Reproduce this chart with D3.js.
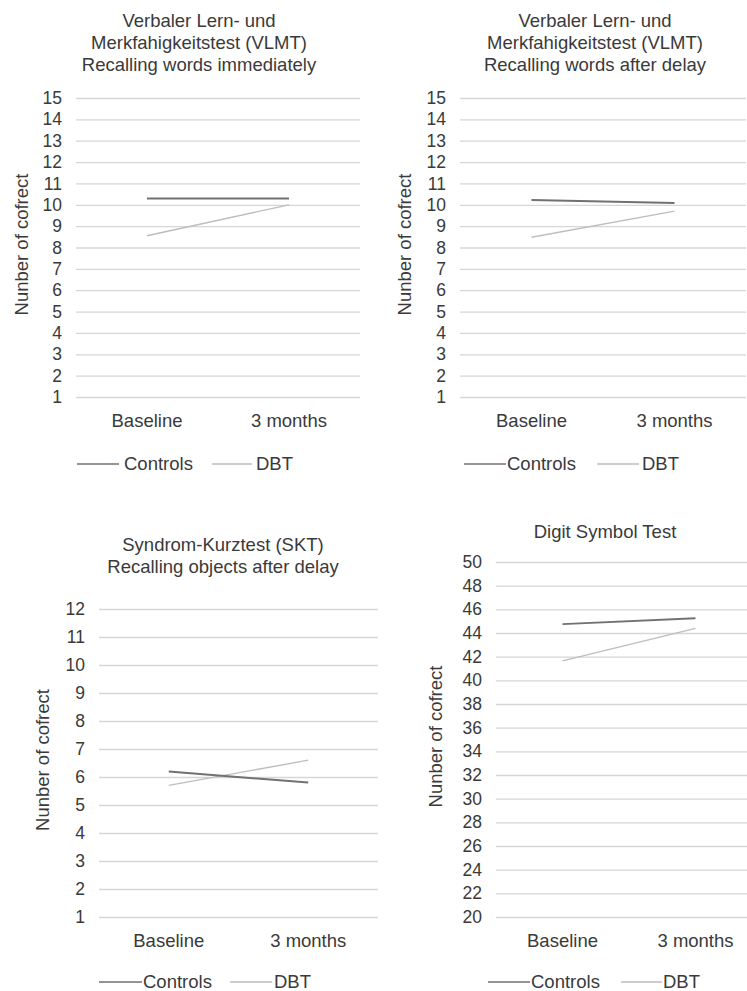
<!DOCTYPE html>
<html>
<head>
<meta charset="utf-8">
<script src="https://cdn.jsdelivr.net/npm/d3@7"></script>
<style>
  body { margin: 0; background: #fff; }
  svg { display: block; font-family: "Liberation Sans", Arial, sans-serif; }
  text { fill: #3a3a3a; }
</style>
</head>
<body>
<script>
// data
var categories = ["Baseline", "3 months"];
var seriesNames = ["Controls", "DBT"];

var vlmtImmediateControls = [10.3, 10.3];
var vlmtImmediateDBT = [8.55, 10.0];
var vlmtDelayControls = [10.22, 10.08];
var vlmtDelayDBT = [8.48, 9.7];
var sktControls = [6.2, 5.8];
var sktDBT = [5.7, 6.6];
var digitControls = [44.75, 45.25];
var digitDBT = [41.65, 44.4];

var vlmtTicks = [1, 2, 3, 4, 5, 6, 7, 8, 9, 10, 11, 12, 13, 14, 15];
var sktTicks = [1, 2, 3, 4, 5, 6, 7, 8, 9, 10, 11, 12];
var digitTicks = [20, 22, 24, 26, 28, 30, 32, 34, 36, 38, 40, 42, 44, 46, 48, 50];

var yLabel = "Nunber of cofrect";

var panels = [
  { title: ["Verbaler Lern- und", "Merkfahigkeitstest (VLMT)", "Recalling words immediately"],
    controls: vlmtImmediateControls, dbt: vlmtImmediateDBT, ticks: vlmtTicks,
    x0: 76, x1: 360, yTop: 98, yBot: 397, titleX: 199, titleY: 27, labelX: 22,
    xLabY: 427, legY: 464, leg: [77, 119, 124, 212, 252, 256] },
  { title: ["Verbaler Lern- und", "Merkfahigkeitstest (VLMT)", "Recalling words after delay"],
    controls: vlmtDelayControls, dbt: vlmtDelayDBT, ticks: vlmtTicks,
    x0: 460, x1: 746, yTop: 98, yBot: 397, titleX: 595, titleY: 27, labelX: 405,
    xLabY: 427, legY: 464, leg: [464, 506, 507, 597, 639, 642] },
  { title: ["Syndrom-Kurztest (SKT)", "Recalling objects after delay"],
    controls: sktControls, dbt: sktDBT, ticks: sktTicks,
    x0: 99, x1: 378, yTop: 609, yBot: 917, titleX: 223, titleY: 551, labelX: 43,
    xLabY: 947, legY: 982, leg: [99, 142, 143, 230, 272, 274] },
  { title: ["Digit Symbol Test"],
    controls: digitControls, dbt: digitDBT, ticks: digitTicks,
    x0: 496, x1: 762, yTop: 562, yBot: 917, titleX: 605, titleY: 538, labelX: 436,
    xLabY: 947, legY: 982, leg: [488, 530, 531, 621, 662, 663] }
];

var colors = { Controls: "#717171", DBT: "#bdbdbd" };
var widths = { Controls: 2, DBT: 1.3 };
var fs = 18.5;

var svg = d3.select("body").append("svg")
  .attr("width", 747)
  .attr("height", 991);

panels.forEach(function(p) {
  var g = svg.append("g");

  var x = d3.scaleBand().domain(categories).range([p.x0, p.x1]);
  var y = d3.scaleLinear()
    .domain([p.ticks[0], p.ticks[p.ticks.length - 1]])
    .range([p.yBot, p.yTop]);

  // grid + tick labels
  var ax = g.append("g")
    .attr("transform", "translate(" + p.x0 + ",0)")
    .call(d3.axisLeft(y).tickValues(p.ticks).tickSize(-(p.x1 - p.x0)).tickPadding(14).tickFormat(d3.format("d")));
  ax.select(".domain").remove();
  ax.selectAll(".tick line").attr("stroke", "#d6d6d6").attr("stroke-width", 1.3);
  ax.selectAll(".tick text").attr("font-size", 17.5).attr("fill", "#3a3a3a");

  // category labels
  var bx = g.append("g")
    .attr("transform", "translate(0," + p.xLabY + ")")
    .call(d3.axisBottom(x).tickSize(0).tickPadding(0));
  bx.select(".domain").remove();
  bx.selectAll(".tick text").attr("font-size", fs).attr("fill", "#3a3a3a").attr("y", 0).attr("dy", 0);

  // lines
  var line = d3.line()
    .x(function(d, i) { return x(categories[i]) + x.bandwidth() / 2; })
    .y(function(d) { return y(d); });

  [["DBT", p.dbt], ["Controls", p.controls]].forEach(function(s) {
    g.append("path")
      .datum(s[1])
      .attr("d", line)
      .attr("fill", "none")
      .attr("stroke", colors[s[0]])
      .attr("stroke-width", widths[s[0]]);
  });

  // title
  var t = g.append("text")
    .attr("x", p.titleX)
    .attr("y", p.titleY)
    .attr("text-anchor", "middle")
    .attr("font-size", fs);
  p.title.forEach(function(line, i) {
    t.append("tspan").attr("x", p.titleX).attr("dy", i === 0 ? 0 : 22).text(line);
  });

  // y label
  g.append("text")
    .attr("transform", "translate(" + p.labelX + "," + ((p.yTop + p.yBot) / 2 - 3) + ") rotate(-90)")
    .attr("text-anchor", "middle")
    .attr("dy", "0.35em")
    .attr("font-size", fs)
    .text(yLabel);

  // legend
  var l = p.leg;
  seriesNames.forEach(function(name, i) {
    g.append("line")
      .attr("x1", l[i * 3]).attr("x2", l[i * 3 + 1])
      .attr("y1", p.legY).attr("y2", p.legY)
      .attr("stroke", colors[name])
      .attr("stroke-width", 1.3);
    g.append("text")
      .attr("x", l[i * 3 + 2])
      .attr("y", p.legY)
      .attr("dy", "0.35em")
      .attr("font-size", fs)
      .text(name);
  });
});
</script>
</body>
</html>
